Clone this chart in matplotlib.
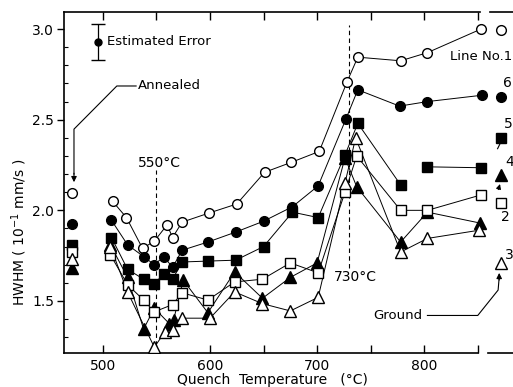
import matplotlib
matplotlib.use("Agg")
from matplotlib import pyplot as plt

plt.rcParams['font.family'] = ['DejaVu Sans']

# quench temperatures (C) and HWHM (10^-1 mm/s) per line
t_line1 = [509, 522, 537, 548, 560, 565, 574, 599, 625, 651, 676, 702, 728, 738, 778, 803, 853]
h_line1 = [2.05, 1.96, 1.79, 1.83, 1.92, 1.85, 1.935, 1.985, 2.035, 2.21, 2.265, 2.325, 2.71, 2.845, 2.825, 2.87, 3.0]

t_line6 = [508, 523, 538, 548, 557, 565, 574, 598, 624, 650, 677, 701, 727, 738, 777, 803, 854]
h_line6 = [1.945, 1.81, 1.745, 1.70, 1.745, 1.685, 1.78, 1.825, 1.88, 1.94, 2.02, 2.135, 2.505, 2.665, 2.575, 2.60, 2.635]

t_line5 = [508, 523, 538, 548, 557, 565, 574, 598, 624, 650, 677, 701, 726, 738, 778, 803, 853]
h_line5 = [1.85, 1.675, 1.62, 1.595, 1.65, 1.62, 1.715, 1.72, 1.725, 1.80, 1.99, 1.96, 2.305, 2.48, 2.14, 2.24, 2.235]
gap_line5 = 15  # no line drawn between 778 and 803

t_line4 = [507, 523, 538, 548, 562, 566, 575, 598, 623, 649, 675, 700, 726, 737, 778, 803, 852]
h_line4 = [1.81, 1.63, 1.345, 1.46, 1.375, 1.395, 1.615, 1.435, 1.66, 1.515, 1.63, 1.71, 2.29, 2.13, 1.825, 1.99, 1.93]

t_line2 = [507, 523, 538, 548, 565, 574, 598, 623, 649, 675, 701, 726, 737, 778, 803, 853]
h_line2 = [1.755, 1.59, 1.505, 1.44, 1.48, 1.545, 1.505, 1.605, 1.62, 1.71, 1.655, 2.10, 2.30, 2.0, 2.0, 2.085]

t_line3 = [507, 523, 548, 558, 565, 574, 600, 623, 649, 675, 701, 726, 736, 778, 803, 851]
h_line3 = [1.80, 1.55, 1.245, 1.33, 1.34, 1.405, 1.405, 1.55, 1.485, 1.445, 1.52, 2.15, 2.40, 1.77, 1.845, 1.89]

# annealed / ground samples, order: line 1, 6, 5, 4, 2, 3
t_annealed = 471
h_annealed = [2.095, 1.925, 1.81, 1.68, 1.77, 1.73]
t_ground = 872
h_ground = [2.995, 2.625, 2.40, 2.195, 2.04, 1.71]

styles = [('o', 'white', 7), ('o', 'black', 7), ('s', 'black', 6.5),
          ('^', 'black', 8), ('s', 'white', 6.5), ('^', 'white', 8.5)]

fig = plt.figure(figsize=(5.13, 3.87), dpi=100)
ax = fig.add_axes([0.1248, 0.0879, 0.8752, 0.881])

series = [(t_line1, h_line1), (t_line6, h_line6), (t_line5, h_line5),
          (t_line4, h_line4), (t_line2, h_line2), (t_line3, h_line3)]

for i, (t, h) in enumerate(series):
    m, fc, ms = styles[i]
    if i == 2:
        ax.plot(t[:gap_line5], h[:gap_line5], '-', color='k', lw=0.7, zorder=2)
        ax.plot(t[gap_line5:], h[gap_line5:], '-', color='k', lw=0.7, zorder=2)
    else:
        ax.plot(t, h, '-', color='k', lw=0.7, zorder=2)
    ax.plot(t, h, m, mfc=fc, mec='k', mew=1.0, ms=ms, ls='none', zorder=3)
    ax.plot([t_annealed], [h_annealed[i]], m, mfc=fc, mec='k', mew=1.0, ms=ms, zorder=3)
    ax.plot([t_ground], [h_ground[i]], m, mfc=fc, mec='k', mew=1.0, ms=ms, zorder=3, clip_on=False)

# dashed markers for 550 and 730 C
ax.plot([550, 550], [1.213, 2.22], '--', color='k', lw=0.8, dashes=(4, 3), zorder=1)
ax.plot([730, 730], [1.68, 3.02], '--', color='k', lw=0.8, dashes=(4, 3), zorder=1)
ax.text(553, 2.26, '550°C', ha='center', va='center', fontsize=10)
ax.text(716, 1.63, '730°C', ha='left', va='center', fontsize=10)

# estimated error
ax.errorbar([495], [2.93], yerr=0.10, fmt='o', color='k', ms=5, capsize=5, lw=0.9)
ax.text(504, 2.93, 'Estimated Error', ha='left', va='center', fontsize=9.5)

# annealed arrow
ax.plot([531, 513, 473, 473], [2.686, 2.686, 2.448, 2.2], color='k', lw=0.8)
ax.annotate('', xy=(473, 2.14), xytext=(473, 2.22),
            arrowprops=dict(arrowstyle='-|>', color='k', lw=0.8, mutation_scale=8))
ax.text(533, 2.686, 'Annealed', ha='left', va='center', fontsize=9.5)

# ground arrow
ax.plot([803, 850, 869, 870], [1.42, 1.42, 1.56, 1.63], color='k', lw=0.8, clip_on=False)
ax.annotate('', xy=(870, 1.67), xytext=(870, 1.60),
            arrowprops=dict(arrowstyle='-|>', color='k', lw=0.8, mutation_scale=8),
            annotation_clip=False)
ax.text(752, 1.42, 'Ground', ha='left', va='center', fontsize=9.5)
ax.annotate('', xy=(871.5, 2.16), xytext=(868.5, 2.10),
            arrowprops=dict(arrowstyle='-|>', color='k', lw=0.8, mutation_scale=7),
            annotation_clip=False)
ax.plot([868.5, 871], [2.34, 2.37], color='k', lw=0.8, clip_on=False)

# line numbers
ax.text(824, 2.85, 'Line No.1', ha='left', va='center', fontsize=9.5)
ax.text(874, 2.70, '6', ha='left', va='center', fontsize=10, clip_on=False)
ax.text(874.5, 2.476, '5', ha='left', va='center', fontsize=10, clip_on=False)
ax.text(875.5, 2.267, '4', ha='left', va='center', fontsize=10, clip_on=False)
ax.text(872, 1.963, '2', ha='left', va='center', fontsize=10, clip_on=False)
ax.text(875.5, 1.753, '3', ha='left', va='center', fontsize=10, clip_on=False)

ax.set_xlim(463.7, 882.9)
ax.set_ylim(1.213, 3.094)
ax.set_xticks([500, 600, 700, 800])
ax.set_xticks([550, 650, 750, 850], minor=True)
ax.set_yticks([1.5, 2.0, 2.5, 3.0])
ax.set_yticks([1.3, 1.4, 1.6, 1.7, 1.8, 1.9, 2.1, 2.2, 2.3, 2.4, 2.6, 2.7, 2.8, 2.9], minor=True)
ax.set_yticklabels(['1.5', '2.0', '2.5', '3.0'])
ax.tick_params(axis='x', which='both', direction='in', length=6, width=1, top=True,
               labelsize=10, pad=4)
ax.tick_params(axis='y', which='major', direction='out', length=5, width=1, labelsize=10, pad=2)
ax.tick_params(axis='y', which='minor', direction='in', length=3, width=0.8)

# broken x axis
ax.spines['right'].set_visible(False)
for s in ['left', 'bottom', 'top']:
    ax.spines[s].set_linewidth(1.2)
ax.spines['bottom'].set_bounds(463.7, 850.5)
ax.spines['top'].set_bounds(463.7, 852.5)
ax.plot([859.5, 882.9], [0, 0], color='k', lw=1.2, transform=ax.get_xaxis_transform(), clip_on=False)
ax.plot([861, 882.9], [1, 1], color='k', lw=1.2, transform=ax.get_xaxis_transform(), clip_on=False)

fig.text(0.532, 0.018, 'Quench  Temperature   (°C)', ha='center', va='center', fontsize=10)
fig.text(0.037, 0.40, 'HWHM ( 10$^{-1}$ mm/s )', ha='center', va='center', rotation=90, fontsize=10)

plt.savefig('out.png', dpi=100)
